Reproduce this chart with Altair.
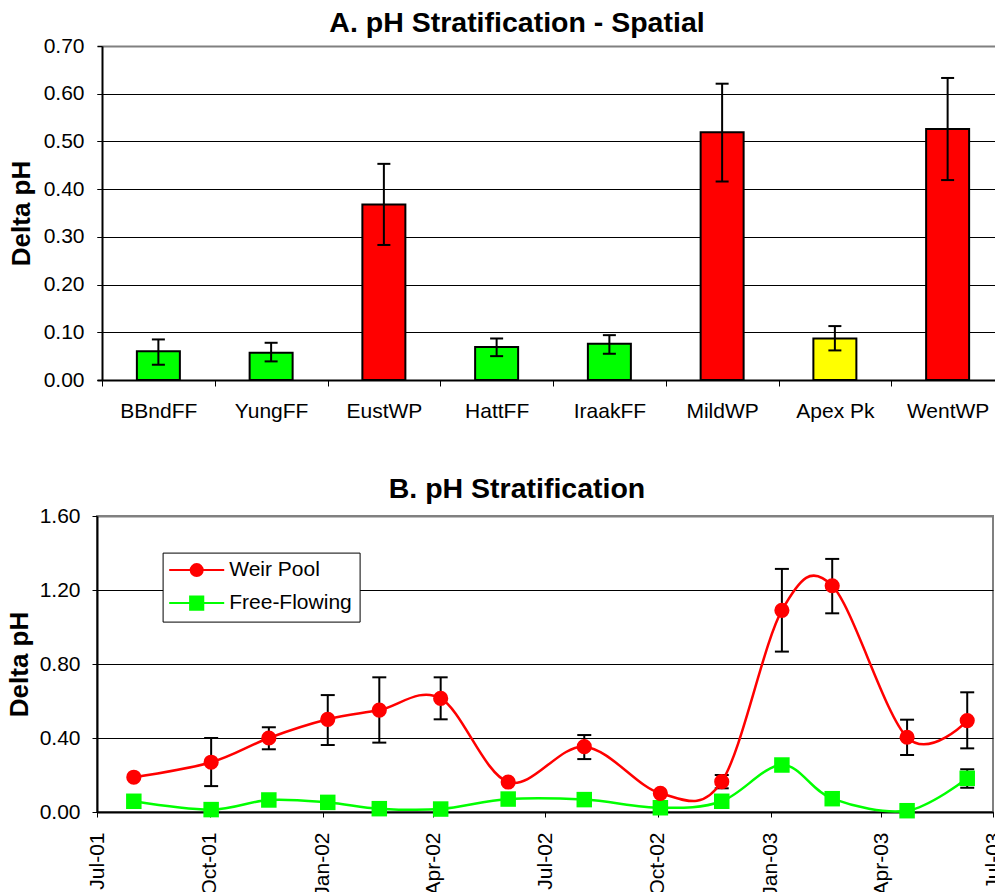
import json
import altair as alt
import pandas as pd

FONT = "Liberation Sans"
GRAY = "#808080"

# ---------------- Panel A: spatial ----------------
sites = ["BBndFF", "YungFF", "EustWP", "HattFF", "IraakFF", "MildWP", "Apex Pk", "WentWP"]
site_group = ["Free-Flowing", "Free-Flowing", "Weir Pool", "Free-Flowing",
              "Free-Flowing", "Weir Pool", "Park", "Weir Pool"]
delta_ph = [0.060, 0.057, 0.368, 0.069, 0.076, 0.519, 0.087, 0.526]
delta_lo = [0.032, 0.039, 0.283, 0.050, 0.055, 0.416, 0.062, 0.419]
delta_hi = [0.085, 0.078, 0.453, 0.087, 0.094, 0.621, 0.113, 0.633]
ya_ticks = [0.00, 0.10, 0.20, 0.30, 0.40, 0.50, 0.60, 0.70]

group_names = ["Free-Flowing", "Weir Pool", "Park"]
group_colors = ["#00FF00", "#FF0000", "#FFFF00"]

# ---------------- Panel B: temporal ----------------
sample_dates = ["2001-07-31", "2001-10-02", "2001-11-18", "2002-01-05", "2002-02-16",
                "2002-04-07", "2002-06-01", "2002-08-02", "2002-10-03", "2002-11-22",
                "2003-01-10", "2003-02-20", "2003-04-22", "2003-06-10"]
weir_pool = [0.188, 0.269, 0.400, 0.501, 0.551, 0.614, 0.162, 0.353, 0.101, 0.164,
             1.090, 1.223, 0.404, 0.494]
weir_lo = [None, 0.140, 0.339, 0.362, 0.375, 0.501, None, 0.286, None, 0.128,
           0.867, 1.074, 0.308, 0.344]
weir_hi = [None, 0.400, 0.458, 0.632, 0.728, 0.728, None, 0.416, None, 0.200,
           1.314, 1.368, 0.499, 0.647]
free_flowing = [0.058, 0.013, 0.065, 0.052, 0.018, 0.016, 0.070, 0.067, 0.023, 0.058,
                0.254, 0.072, 0.007, 0.182]
free_lo = [None, None, None, None, None, None, None, None, None, None, None, None, None, 0.131]
free_hi = [None, None, None, None, None, None, None, None, None, None, None, None, None, 0.231]
yb_ticks = [0.00, 0.40, 0.80, 1.20, 1.60]
xb_ticks = ["2001-07-01", "2001-10-01", "2002-01-01", "2002-04-01", "2002-07-01",
            "2002-10-01", "2003-01-01", "2003-04-01", "2003-07-01"]

series_names = ["Weir Pool", "Free-Flowing"]
series_colors = ["#FF0000", "#00FF00"]
series_shapes = ["circle", "square"]
series_sizes = [230, 240]
# legend glyphs: a line segment with the marker in its middle
legend_paths = [
    "M-3.93,0L3.93,0M-0.86,0A0.86,0.86,0,1,1,0.86,0A0.86,0.86,0,1,1,-0.86,0Z",
    "M-3.93,0L3.93,0M-0.94,-0.94L0.94,-0.94L0.94,0.94L-0.94,0.94Z",
]

# ---------------- layout constants ----------------
TOP_W, TOP_H = 898, 334
AXIS_SHIFT = 5          # panel A's y axis sits 5px to the right of panel B's
BAND_PX = 112.75
BOT_W, BOT_H = 896, 296


def dt(s):
    y, m, d = (int(v) for v in s.split("-"))
    return alt.DateTime(year=y, month=m, date=d, utc=True)


def cond(test, a, b):
    return alt.condition(test, alt.value(a), alt.value(b))


# ================= Panel A =================
df_a = pd.DataFrame({
    "site": sites, "group": site_group, "value": delta_ph,
    "lo": delta_lo, "hi": delta_hi,
    "pos": [i + 0.5 for i in range(len(sites))],
})

label_expr = json.dumps(sites) + "[datum.value]"
xa = alt.X(
    "pos:Q",
    scale=alt.Scale(domain=[-AXIS_SHIFT / BAND_PX, (TOP_W - AXIS_SHIFT) / BAND_PX],
                    nice=False, zero=False, padding=0),
    axis=alt.Axis(values=list(range(len(sites))), labelExpr=label_expr,
                  labelOffset=BAND_PX / 2, labelFlush=False, labelOverlap=False,
                  grid=False, domainColor="black", domainWidth=2, tickColor="black",
                  tickSize=6, tickWidth=1, labelFont=FONT, labelFontSize=21,
                  labelColor="black", labelPadding=14, title=None),
)


def ya(field):
    return alt.Y(
        f"{field}:Q",
        scale=alt.Scale(domain=[ya_ticks[0], ya_ticks[-1]], nice=False, zero=False, padding=0),
        axis=alt.Axis(values=ya_ticks, format=".2f", title="Delta pH", grid=True,
                      gridColor=cond("datum.value > 0.695", GRAY, "black"),
                      gridWidth=cond("datum.value > 0.695", 2, 1),
                      offset=-AXIS_SHIFT,
                      domainColor="black", domainWidth=2, tickColor="black",
                      tickSize=5, tickWidth=1, labelFont=FONT, labelFontSize=21,
                      labelColor="black", labelPadding=13, titleFont=FONT,
                      titleFontSize=26, titleFontWeight="bold", titleColor="black",
                      titlePadding=9),
    )


base_a = alt.Chart(df_a)
bars = base_a.mark_bar(size=43, stroke="black", strokeWidth=2).encode(
    x=xa, y=ya("value"),
    color=alt.Color("group:N", scale=alt.Scale(domain=group_names, range=group_colors), legend=None),
)
err_a = base_a.mark_rule(color="black", strokeWidth=2).encode(x=xa, y=ya("lo"), y2="hi:Q")
cap_a_lo = base_a.mark_tick(orient="horizontal", size=13, thickness=2, color="black", opacity=1).encode(x=xa, y=ya("lo"))
cap_a_hi = base_a.mark_tick(orient="horizontal", size=13, thickness=2, color="black", opacity=1).encode(x=xa, y=ya("hi"))

top = alt.layer(bars, err_a, cap_a_lo, cap_a_hi).properties(
    width=TOP_W, height=TOP_H,
    title=alt.TitleParams("A. pH Stratification - Spatial", font=FONT, fontSize=28.5,
                          fontWeight="bold", color="black", anchor="middle",
                          frame="group", dx=-29, offset=-2),
    view=alt.ViewBackground(stroke="transparent"),
)

# ================= Panel B =================
rows = []
for name, vals, los, his in [("Weir Pool", weir_pool, weir_lo, weir_hi),
                             ("Free-Flowing", free_flowing, free_lo, free_hi)]:
    for d, v, lo, hi in zip(sample_dates, vals, los, his):
        rows.append({"series": name, "date": d, "value": v, "lo": lo, "hi": hi})
df_b = pd.DataFrame(rows)

xb = alt.X(
    "date:T",
    scale=alt.Scale(type="utc", domain=[dt(xb_ticks[0]), dt(xb_ticks[-1])], nice=False, padding=0),
    axis=alt.Axis(values=[dt(s) for s in xb_ticks], format="%b-%y", labelAngle=-90,
                  labelFlush=False, labelOverlap=False, grid=False,
                  domainColor="black", domainWidth=2, tickColor="black", tickSize=5,
                  tickWidth=1, labelFont=FONT, labelFontSize=21, labelColor="black",
                  labelPadding=15, title=None),
)


def yb(field):
    return alt.Y(
        f"{field}:Q",
        scale=alt.Scale(domain=[yb_ticks[0], yb_ticks[-1]], nice=False, zero=False, padding=0),
        axis=alt.Axis(values=yb_ticks, format=".2f", title="Delta pH", grid=True,
                      gridColor=cond("datum.value > 1.59", GRAY, "black"),
                      gridWidth=cond("datum.value > 1.59", 2, 1),
                      domainColor="black", domainWidth=2, tickColor="black",
                      tickSize=5, tickWidth=1, labelFont=FONT, labelFontSize=21,
                      labelColor="black", labelPadding=12, titleFont=FONT,
                      titleFontSize=26, titleFontWeight="bold", titleColor="black",
                      titlePadding=7),
    )


base_b = alt.Chart(df_b)
err_layers, line_layers, point_layers = [], [], []
for name, color, shape, size in zip(series_names, series_colors, series_shapes, series_sizes):
    sub = base_b.transform_filter(alt.datum.series == name)
    eb = sub.transform_filter("isValid(datum.lo)")
    err_layers.append(eb.mark_rule(color="black", strokeWidth=2).encode(x=xb, y=yb("lo"), y2="hi:Q"))
    err_layers.append(eb.mark_tick(orient="horizontal", size=14, thickness=2, color="black", opacity=1)
                      .encode(x=xb, y=yb("lo")))
    err_layers.append(eb.mark_tick(orient="horizontal", size=14, thickness=2, color="black", opacity=1)
                      .encode(x=xb, y=yb("hi")))
    line_layers.append(sub.mark_line(interpolate="cardinal", color=color, strokeWidth=2.5)
                       .encode(x=xb, y=yb("value")))
    point_layers.append(sub.mark_point(shape=shape, filled=True, size=size, color=color, opacity=1)
                        .encode(x=xb, y=yb("value")))

legend_def = alt.Legend(title=None, orient="none", legendX=65.6, legendY=506.6,
                        direction="vertical", strokeColor="black", fillColor="white",
                        padding=7, labelFont=FONT, labelFontSize=21, labelColor="black",
                        symbolOffset=16.6, labelOffset=22, symbolStrokeWidth=2,
                        symbolSize=196, rowPadding=11)
legend_layer = base_b.transform_filter("false").mark_point(
    filled=True, size=196, opacity=1, strokeWidth=2
).encode(
    x=xb, y=yb("value"),
    shape=alt.Shape("series:N", scale=alt.Scale(domain=series_names, range=legend_paths), legend=legend_def),
    fill=alt.Fill("series:N", scale=alt.Scale(domain=series_names, range=series_colors), legend=legend_def),
    stroke=alt.Stroke("series:N", scale=alt.Scale(domain=series_names, range=series_colors), legend=legend_def),
)

bottom = alt.layer(*err_layers, *line_layers[::-1], *point_layers[::-1], legend_layer).properties(
    width=BOT_W, height=BOT_H,
    title=alt.TitleParams("B. pH Stratification", font=FONT, fontSize=28.5,
                          fontWeight="bold", color="black", anchor="middle",
                          frame="group", dx=-28, offset=2),
    view=alt.ViewBackground(stroke=GRAY, strokeWidth=2),
)

chart = alt.concat(top, bottom, columns=1, spacing=51).properties(
    padding={"left": 5, "top": 8, "right": -9, "bottom": -5},
    background="white",
).configure(font=FONT)

chart.save("out.html", embed_options={"renderer": "svg", "actions": False})
